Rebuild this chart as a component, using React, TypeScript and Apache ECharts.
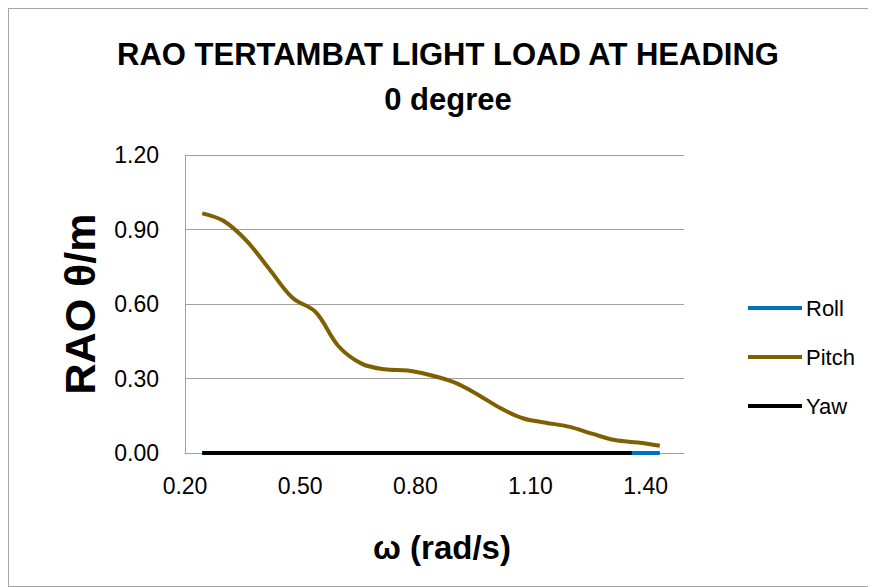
import React, { useEffect, useRef } from "react";
import * as echarts from "echarts";

const titleLines = ["RAO TERTAMBAT LIGHT LOAD AT HEADING", "0 degree"];
const xAxisTitle = "ω (rad/s)";
const yAxisTitle = "RAO θ/m";
const seriesNames = ["Roll", "Pitch", "Yaw"];

const omega = [0.245, 0.3, 0.36, 0.42, 0.48, 0.54, 0.6, 0.66, 0.72, 0.78, 0.84, 0.9, 0.96, 1.02, 1.08, 1.14, 1.2, 1.26, 1.32, 1.38, 1.437];
const pitch = [0.965, 0.935, 0.855, 0.74, 0.625, 0.568, 0.43, 0.36, 0.337, 0.332, 0.313, 0.285, 0.238, 0.182, 0.14, 0.122, 0.106, 0.078, 0.052, 0.042, 0.029];
const roll = [0, 0, 0, 0, 0, 0, 0, 0, 0, 0, 0, 0, 0, 0, 0, 0, 0, 0, 0, 0, 0];
const yawOmega = [0.245, 0.3, 0.36, 0.42, 0.48, 0.54, 0.6, 0.66, 0.72, 0.78, 0.84, 0.9, 0.96, 1.02, 1.08, 1.14, 1.2, 1.26, 1.32, 1.364];
const yaw = [0, 0, 0, 0, 0, 0, 0, 0, 0, 0, 0, 0, 0, 0, 0, 0, 0, 0, 0, 0];

const colors = ["#0070C0", "#7F6000", "#000000"];

const pairs = (xs: number[], ys: number[]) => xs.map((x, i) => [x, ys[i]]);

export default function App() {
  const ref = useRef<HTMLDivElement>(null);
  useEffect(() => {
    if (!ref.current) return;
    const chart = echarts.init(ref.current, null, { renderer: "svg" });
    const font = "Liberation Sans, Arial, sans-serif";
    const grey = "#A0A0A0";
    chart.setOption({
      animation: false,
      textStyle: { fontFamily: font },
      grid: { left: 176, top: 146, width: 499, height: 298, containLabel: false },
      xAxis: {
        type: "value",
        min: 0.2,
        max: 1.5,
        interval: 0.3,
        axisLine: { show: true, lineStyle: { color: grey, width: 1 } },
        axisTick: { show: false },
        splitLine: { show: false },
        axisLabel: {
          showMaxLabel: false,
          margin: 21,
          color: "#000",
          fontSize: 23,
          fontFamily: font,
          formatter: (v: number) => v.toFixed(2),
        },
      },
      yAxis: {
        type: "value",
        min: 0,
        max: 1.2,
        interval: 0.3,
        axisLine: { show: true, lineStyle: { color: grey, width: 1 } },
        axisTick: { show: false },
        splitLine: { show: true, lineStyle: { color: grey, width: 1 } },
        axisLabel: {
          margin: 26,
          color: "#000",
          fontSize: 23,
          fontFamily: font,
          formatter: (v: number) => v.toFixed(2),
        },
      },
      legend: {
        orient: "vertical",
        left: 739,
        top: 288,
        padding: 0,
        itemWidth: 54,
        itemHeight: 4,
        itemGap: 27,
        icon: "rect",
        data: seriesNames,
        textStyle: { fontSize: 22, color: "#000", fontFamily: font, lineHeight: 20, padding: [0, 0, 0, -1] },
      },
      graphic: [
        {
          type: "text",
          x: 439,
          y: 45,
          style: { text: titleLines[0], align: "center", verticalAlign: "middle", font: "bold 31px Liberation Sans, Arial, sans-serif", fill: "#000" },
        },
        {
          type: "text",
          x: 439,
          y: 90,
          style: { text: titleLines[1], align: "center", verticalAlign: "middle", font: "bold 31px Liberation Sans, Arial, sans-serif", fill: "#000" },
        },
        {
          type: "text",
          x: 71,
          y: 295,
          rotation: Math.PI / 2,
          style: { text: yAxisTitle, align: "center", verticalAlign: "middle", font: "bold 43px Liberation Sans, Arial, sans-serif", fill: "#000" },
        },
        {
          type: "text",
          x: 433,
          y: 538,
          style: { text: xAxisTitle, align: "center", verticalAlign: "middle", font: "bold 33px Liberation Sans, Arial, sans-serif", fill: "#000" },
        },
      ],
      series: [
        {
          name: seriesNames[0],
          type: "line",
          data: pairs(omega, roll),
          symbol: "none",
          lineStyle: { color: colors[0], width: 4 },
          itemStyle: { color: colors[0] },
          z: 2,
        },
        {
          name: seriesNames[1],
          type: "line",
          data: pairs(omega, pitch),
          symbol: "none",
          smooth: 0.35,
          lineStyle: { color: colors[1], width: 4 },
          itemStyle: { color: colors[1] },
          z: 3,
        },
        {
          name: seriesNames[2],
          type: "line",
          data: pairs(yawOmega, yaw),
          symbol: "none",
          lineStyle: { color: colors[2], width: 4 },
          itemStyle: { color: colors[2] },
          z: 4,
        },
      ],
    });
    return () => chart.dispose();
  }, []);
  return <div ref={ref} style={{ width: 866, height: 577, border: "1px solid #A6A6A6" }} />;
}
